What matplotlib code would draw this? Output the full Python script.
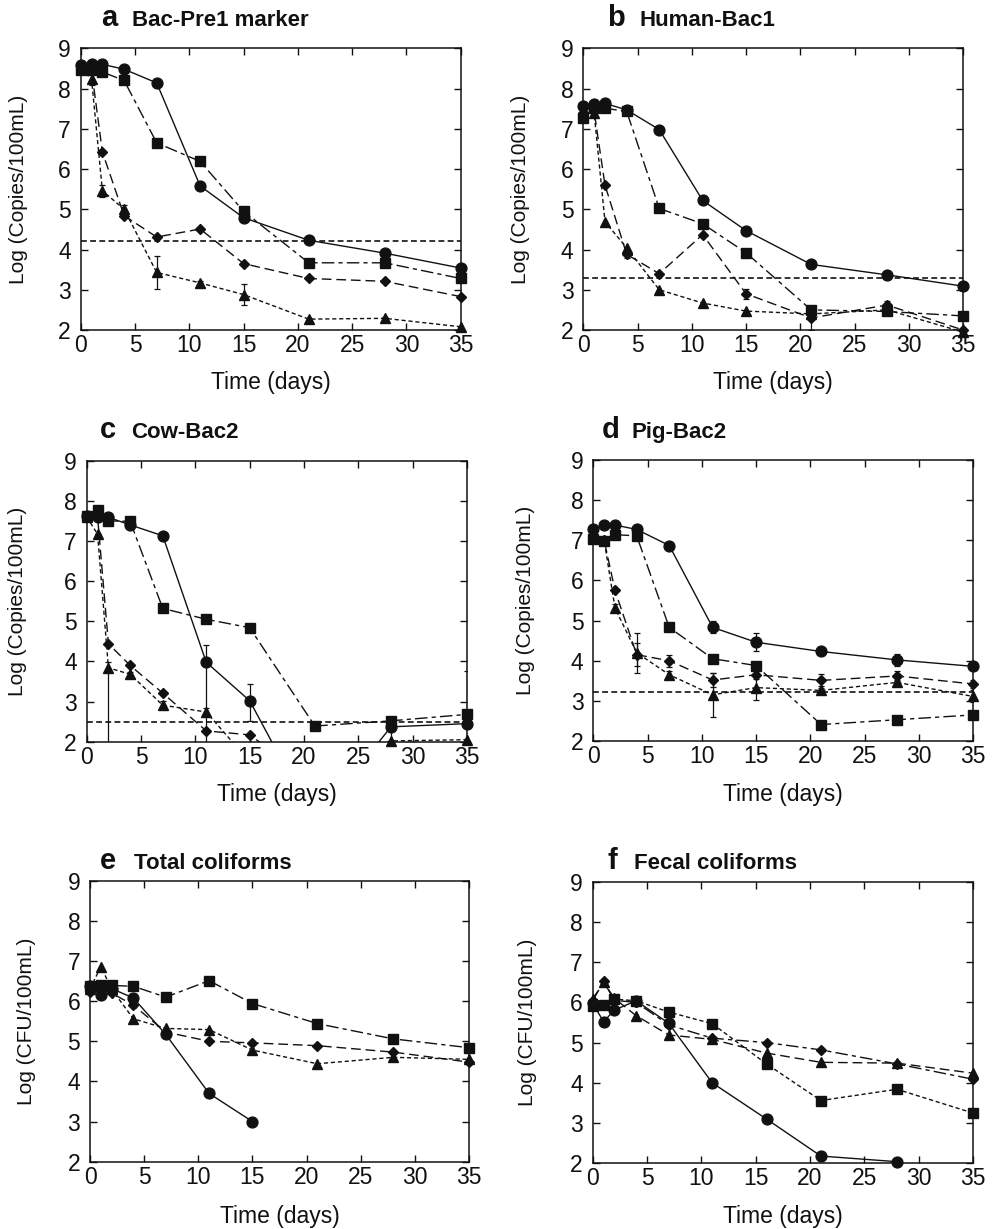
import matplotlib
matplotlib.use('Agg')
import matplotlib.pyplot as plt
import numpy as np

plt.rcParams['font.family'] = ['Liberation Sans', 'DejaVu Sans']

# ---------------- data ----------------
days = [0, 1, 2, 4, 7, 11, 15, 21, 28, 35]
days_f = [0, 1, 2, 4, 7, 11, 16, 21, 28, 35]
x_ticks = [0, 5, 10, 15, 20, 25, 30, 35]
y_ticks = [2, 3, 4, 5, 6, 7, 8, 9]

panel_letters = ['a', 'b', 'c', 'd', 'e', 'f']
panel_names = ['Bac-Pre1 marker', 'Human-Bac1', 'Cow-Bac2', 'Pig-Bac2',
               'Total coliforms', 'Fecal coliforms']
y_labels = ['Log (Copies/100mL)', 'Log (Copies/100mL)', 'Log (Copies/100mL)',
            'Log (Copies/100mL)', 'Log (CFU/100mL)', 'Log (CFU/100mL)']
x_label = 'Time (days)'

# detection limits (None = no line)
lod = [4.2, 3.28, 2.5, 3.23, None, None]

# panel a: Bac-Pre1 marker
a_circ = [8.59, 8.60, 8.60, 8.48, 8.14, 5.58, 4.79, 4.23, 3.91, 3.54]
a_sq = [8.45, 8.45, 8.41, 8.20, 6.65, 6.19, 4.95, 3.67, 3.67, 3.28]
a_dia = [8.50, 8.45, 6.42, 4.84, 4.31, 4.51, 3.65, 3.28, 3.21, 2.83]
a_tri = [8.50, 8.23, 5.46, 5.00, 3.43, 3.17, 2.88, 2.27, 2.29, 2.08]
a_tri_err = [0, 0.15, 0.15, 0.1, 0.42, 0.06, 0.26, 0.04, 0.04, 0]

# panel b: Human-Bac1
b_circ = [7.57, 7.61, 7.63, 7.47, 6.98, 5.22, 4.47, 3.63, 3.37, 3.09]
b_sq = [7.26, 7.51, 7.51, 7.43, 5.02, 4.64, 3.92, 2.50, 2.46, 2.35]
b_dia = [7.40, 7.43, 5.60, 3.88, 3.40, 4.37, 2.90, 2.30, 2.62, 2.00]
b_tri = [7.40, 7.39, 4.69, 4.04, 3.00, 2.67, 2.47, 2.40, 2.50, 1.95]
b_dia_err = [0, 0, 0, 0.08, 0, 0, 0.12, 0.3, 0.1, 0]

# panel c: Cow-Bac2
c_circ = [7.62, 7.59, 7.59, 7.40, 7.13, 3.98, 3.02, 0.0, 2.37, 2.45]
c_sq = [7.62, 7.77, 7.50, 7.49, 5.32, 5.05, 4.84, 2.39, 2.52, 2.68]
c_dia = [7.60, 7.60, 4.44, 3.90, 3.21, 2.27, 2.17, 1.0, 1.0, 1.0]
c_tri = [7.60, 7.17, 3.84, 3.68, 2.91, 2.74, 1.5, 1.5, 2.02, 2.05]
c_circ_err_lo = [0, 0, 0, 0, 0, 2.5, 0.5, 0, 0.5, 0.5]
c_circ_err_hi = [0, 0, 0, 0, 0, 0.42, 0.42, 0, 0.2, 1.3]
c_tri_err_lo = [0, 0, 2.0, 0.05, 0.1, 0.1, 0, 0, 0, 0]
c_tri_err_hi = [0, 0, 0.15, 0.05, 0.1, 0.1, 0, 0, 0, 0]

# panel d: Pig-Bac2
d_circ = [7.27, 7.38, 7.38, 7.27, 6.87, 4.83, 4.46, 4.23, 4.02, 3.86]
d_sq = [7.02, 6.99, 7.14, 7.11, 4.83, 4.05, 3.88, 2.41, 2.53, 2.65]
d_dia = [7.10, 7.00, 5.75, 4.15, 4.00, 3.52, 3.65, 3.51, 3.62, 3.42]
d_tri = [7.10, 7.00, 5.31, 4.20, 3.65, 3.15, 3.33, 3.26, 3.46, 3.11]
d_circ_err = [0, 0, 0, 0, 0, 0.15, 0.22, 0, 0.15, 0.1]
d_dia_err = [0, 0, 0, 0.28, 0.15, 0.18, 0.1, 0.15, 0.12, 0.1]
d_tri_err = [0, 0, 0.1, 0.5, 0.1, 0.55, 0.3, 0.05, 0.05, 0.15]

# panel e: Total coliforms
e_circ = [6.37, 6.16, 6.31, 6.08, 5.17, 3.70, 3.00, np.nan, np.nan, np.nan]
e_sq = [6.37, 6.40, 6.39, 6.37, 6.10, 6.51, 5.94, 5.44, 5.06, 4.84]
e_dia = [6.22, 6.33, 6.20, 5.90, 5.23, 5.00, 4.96, 4.89, 4.73, 4.48]
e_tri = [6.30, 6.86, 6.30, 5.56, 5.32, 5.29, 4.78, 4.44, 4.60, 4.55]

# panel f: Fecal coliforms
f_circ = [5.98, 5.52, 5.81, 6.04, 5.48, 4.00, 3.10, 2.18, 2.04, np.nan]
f_sq = [5.92, 5.94, 6.08, 6.04, 5.76, 5.47, 4.47, 3.56, 3.84, 3.25]
f_dia = [6.04, 6.52, 6.05, 6.00, 5.44, 5.11, 5.00, 4.82, 4.47, 4.09]
f_tri = [6.08, 6.50, 6.10, 5.67, 5.19, 5.08, 4.74, 4.51, 4.49, 4.24]

# ---------------- styles ----------------
SOLID = '-'
LONG_DASHDOT = (0, (9, 3, 3, 3))
LONG_DASH = (0, (7, 3.5))
SHORT_DASH = (0, (3, 2))

marker_style = {'circ': ('o', 7.8), 'sq': ('s', 7.8), 'dia': ('D', 5.0), 'tri': ('^', 6.8)}

panel_data = [
    {'circ': (a_circ, None), 'sq': (a_sq, None), 'dia': (a_dia, None), 'tri': (a_tri, a_tri_err)},
    {'circ': (b_circ, None), 'sq': (b_sq, None), 'dia': (b_dia, b_dia_err), 'tri': (b_tri, None)},
    {'circ': (c_circ, [c_circ_err_lo, c_circ_err_hi]), 'sq': (c_sq, None), 'dia': (c_dia, None),
     'tri': (c_tri, [c_tri_err_lo, c_tri_err_hi])},
    {'circ': (d_circ, d_circ_err), 'sq': (d_sq, None), 'dia': (d_dia, d_dia_err), 'tri': (d_tri, d_tri_err)},
    {'circ': (e_circ, None), 'sq': (e_sq, None), 'dia': (e_dia, None), 'tri': (e_tri, None)},
    {'circ': (f_circ, None), 'sq': (f_sq, None), 'dia': (f_dia, None), 'tri': (f_tri, None)},
]
panel_x = [days, days, days, days, days, days_f]
panel_ls = [
    {'circ': SOLID, 'sq': LONG_DASHDOT, 'dia': LONG_DASH, 'tri': SHORT_DASH},
    {'circ': SOLID, 'sq': LONG_DASHDOT, 'dia': LONG_DASH, 'tri': SHORT_DASH},
    {'circ': SOLID, 'sq': LONG_DASHDOT, 'dia': LONG_DASH, 'tri': SHORT_DASH},
    {'circ': SOLID, 'sq': LONG_DASHDOT, 'dia': LONG_DASH, 'tri': SHORT_DASH},
    {'circ': SOLID, 'sq': LONG_DASHDOT, 'dia': LONG_DASH, 'tri': SHORT_DASH},
    {'circ': SOLID, 'sq': SHORT_DASH, 'dia': LONG_DASHDOT, 'tri': LONG_DASH},
]

# axes rectangles (left, top, right, bottom) in pixels
W, H = 996, 1229
rects_px = [
    (80.7, 48.3, 460.7, 330.0),
    (583.3, 48.3, 963.0, 330.0),
    (86.7, 460.7, 467.0, 741.7),
    (593.3, 460.0, 973.0, 741.0),
    (90.0, 880.7, 469.0, 1161.7),
    (592.7, 881.7, 973.0, 1163.3),
]
title_letter_x = [0.053, 0.064, 0.035, 0.022, 0.026, 0.040]
title_name_x = [0.136, 0.149, 0.118, 0.101, 0.116, 0.109]
title_y = [1.078, 1.078, 1.08, 1.08, 1.042, 1.045]
ylabel_cx_px = [18, 521, 18, 525, 27, 527]
xlabel_cy_px = [383, 383, 795, 795, 1216, 1216]

fig = plt.figure(figsize=(W / 100, H / 100), dpi=100)
ink = '#111111'

for i in range(6):
    l, t, r, b = rects_px[i]
    ax = fig.add_axes([l / W, 1 - b / H, (r - l) / W, (b - t) / H])
    xs = panel_x[i]
    for key in ['circ', 'sq', 'dia', 'tri']:
        vals, err = panel_data[i][key]
        y = np.array(vals, dtype=float)
        ls = panel_ls[i][key]
        ax.plot(xs, y, color=ink, lw=1.0, ls=ls, zorder=2)
        if err is not None:
            ax.errorbar(xs, y, yerr=err, fmt='none', ecolor=ink, elinewidth=0.9,
                        capsize=2.5, capthick=0.9, zorder=2)
        m, ms = marker_style[key]
        ym = np.where(y >= 1.95, y, np.nan)
        ax.plot(xs, ym, ls='none', marker=m, ms=ms, color=ink, mec=ink,
                clip_on=False, zorder=3)
    if lod[i] is not None:
        ax.axhline(lod[i], color=ink, lw=1.2, ls=(0, (3.5, 2)), zorder=1)

    ax.set_xlim(0, 35)
    ax.set_ylim(2, 9)
    ax.set_xticks(x_ticks)
    ax.set_yticks(y_ticks)
    ax.tick_params(direction='in', top=True, right=True, length=5, width=1.0,
                   labelsize=16.5, colors=ink)
    ax.tick_params(axis='x', pad=3)
    ax.tick_params(axis='y', pad=7)
    for sp in ax.spines.values():
        sp.set_linewidth(1.1)
        sp.set_color(ink)
    ax.set_xlabel(x_label, fontsize=16.5, color=ink, va='center')
    ax.xaxis.set_label_coords(0.5, -(xlabel_cy_px[i] - b) / (b - t))
    ax.set_ylabel(y_labels[i], fontsize=15, color=ink, va='center')
    ax.yaxis.set_label_coords((ylabel_cx_px[i] - l) / (r - l), 0.5)
    ax.text(title_letter_x[i], title_y[i], panel_letters[i], transform=ax.transAxes,
            fontsize=21, fontweight='bold', color=ink, va='baseline', ha='left')
    ax.text(title_name_x[i], title_y[i], panel_names[i], transform=ax.transAxes,
            fontsize=16, fontweight='bold', color=ink, va='baseline', ha='left')

fig.savefig('out.png', dpi=100)
